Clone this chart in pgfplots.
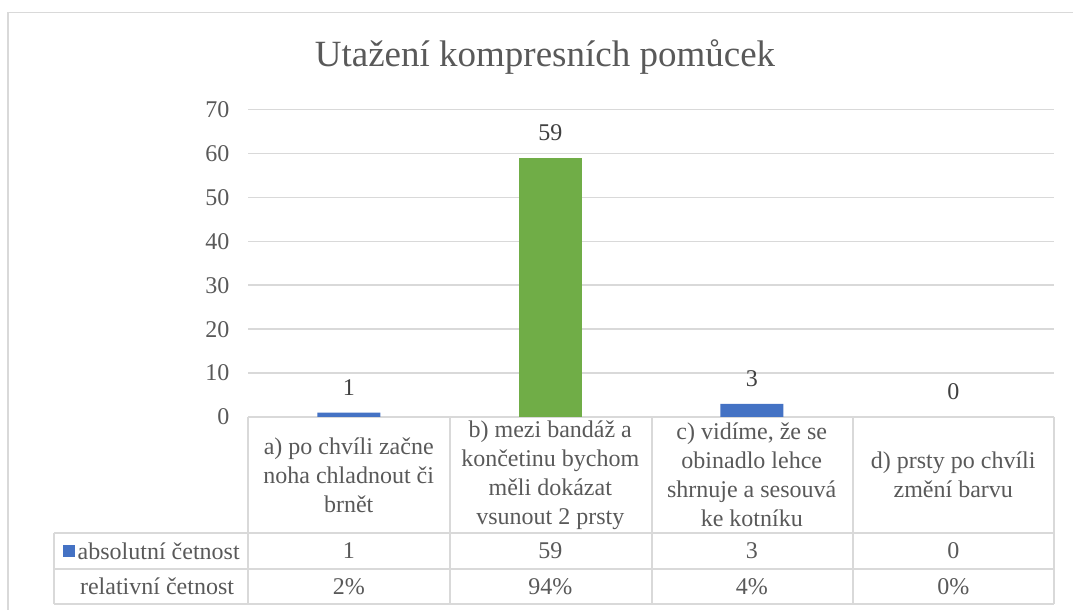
\documentclass[border=0pt]{standalone}
\usepackage{pgfplots}
\pgfplotsset{compat=1.18}
\usepackage{fontspec}
\setmainfont{Liberation Serif}
\definecolor{xlblue}{HTML}{4472C4}
\definecolor{xlgreen}{HTML}{70AD47}
\definecolor{xlgrid}{HTML}{D9D9D9}
\definecolor{xltext}{HTML}{595959}
\definecolor{xllab}{HTML}{404040}
\newcommand{\fs}{\fontsize{24}{29}\selectfont}
\begin{document}
\begin{tikzpicture}[x=1pt,y=1pt]
\useasboundingbox (0,0) rectangle (1073,610);
% outer chart border
\draw[xlgrid, line width=1.5pt] (8,0) -- (8,597.3) -- (1073,597.3);
% title
\node[text=xltext, font=\fontsize{37}{44}\selectfont] at (545,553) {Utažení kompresních pomůcek};
\begin{axis}[
  at={(248pt,193pt)}, anchor=south west,
  scale only axis, width=806pt, height=307.5pt,
  xmin=-0.5, xmax=3.5, ymin=0, ymax=70,
  ytick={0,10,...,70},
  xtick={0,1,2,3},
  xticklabels={{a) po chvíli začne\\noha chladnout či\\brnět},
               {b) mezi bandáž a\\končetinu bychom\\měli dokázat\\vsunout 2 prsty},
               {c) vidíme, že se\\obinadlo lehce\\shrnuje a sesouvá\\ke kotníku},
               {d) prsty po chvíli\\změní barvu}},
  xticklabel style={anchor=center, yshift=-58pt, align=center, font=\fs, text=xltext},
  yticklabel style={font=\fs, text=xltext, xshift=-15pt},
  /pgf/number format/assume math mode=true,
  axis line style={draw=none},
  major tick length=0pt,
  ymajorgrids, grid style={xlgrid, line width=1.5pt},
  clip=false,
  ybar, bar width=63pt,
  nodes near coords,
  every node near coord/.append style={anchor=center, yshift=25.5pt, font=\fs, text=xllab},
]
\addplot[fill=xlblue, draw=none, bar shift=0pt] coordinates {(0,1) (2,3)};
\addplot[fill=xlgreen, draw=none, bar shift=0pt] coordinates {(1,59)};
\addplot[fill=none, draw=none, bar shift=0pt] coordinates {(3,0)};
\end{axis}
% data table grid
\begin{scope}[xlgrid, line width=1.5pt]
\draw (248,193) -- (248,6);
\draw (450,193) -- (450,6);
\draw (652,193) -- (652,6);
\draw (853,193) -- (853,6);
\draw (1054,193) -- (1054,6);
\draw (54,77) -- (54,6);
\draw (54,77) -- (1054,77);
\draw (54,41) -- (1054,41);
\draw (54,6) -- (1054,6);
\end{scope}
% table contents
\fill[xlblue] (63,53) rectangle (74.5,65);
\node[anchor=west, inner sep=0pt, text=xltext, font=\fs] at (77.5,59) {absolutní četnost};
\node[text=xltext, font=\fs] at (157,23.5) {relativní četnost};
\foreach \x/\a/\r in {348.75/1/2\%, 550.25/59/94\%, 751.75/3/4\%, 953.25/0/0\%}{
  \node[text=xltext, font=\fs] at (\x,59) {\a};
  \node[text=xltext, font=\fs] at (\x,23.5) {\r};
}
\end{tikzpicture}
\end{document}
